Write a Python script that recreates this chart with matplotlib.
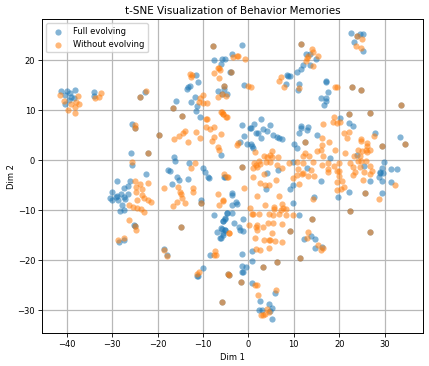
import matplotlib
matplotlib.use("Agg")
import matplotlib.pyplot as plt

title = "t-SNE Visualization of Behavior Memories"
xlabel = "Dim 1"
ylabel = "Dim 2"
label_full = "Full evolving"
label_without = "Without evolving"

# points that appear in both series
both_x = [-23.8,-16.6,-14.7,-25.0,-19.8,-22.1,-7.9,-5.9,-3.9,11.7,22.8,24.7,33.7,22.2,26.9,34.5,29.5,12.5,-1.5,24.0,
          -25.0,-10.5,-14.8,-4.4,-5.8,25.6,22.4,14.1,9.2,26.7,11.3,3.2,6.4,-4.3,-1.6]
both_y = [12.7,10.5,8.9,6.5,5.1,1.5,22.9,13.3,17.6,23.3,14.6,14.1,11.0,9.3,9.5,3.3,2.8,3.6,-1.3,24.9,
          -13.1,-8.5,-13.3,-22.8,-28.4,-6.5,-10.1,-11.7,-14.2,-14.4,-19.5,-21.3,-20.4,-22.9,-24.3]

full_x = [-41.3,-39.9,-38.2,-40.5,-39.4,-39.1,-38.5,-39.6,-40.5,-34.0,-34.1,-22.8,-25.7,-25.9,-25.6,
          -7.5,-5.9,-5.1,-6.1,-4.0,-11.6,-11.2,-13.6,-13.3,-12.8,-15.9,-11.7,-12.7,-11.3,-11.5,-10.6,-6.8,-5.4,-4.8,-6.1,
          -16.4,-16.2,-13.0,-10.1,-9.5,-17.6,-17.2,-22.5,-1.4,-3.7,-0.9,-5.4,
          -1.5,1.2,2.7,0.3,0.5,1.7,2.1,3.2,4.0,4.7,2.7,-0.9,-1.8,-0.4,0.6,0.9,1.1,5.5,6.4,6.8,7.3,10.1,10.6,9.9,
          11.6,11.5,11.2,13.2,13.0,15.1,20.1,22.2,23.1,28.0,33.3,23.9,18.0,25.4,29.8,29.4,31.4,32.7,28.9,29.6,4.0,6.5,13.0,
          8.3,8.4,8.8,9.2,10.6,11.5,12.1,13.5,12.7,13.6,14.8,11.2,11.0,17.0,17.2,17.5,15.9,17.2,17.0,16.7,22.6,25.3,23.2,25.2,24.6,
          -28.9,-26.1,-26.6,-27.5,-30.1,-30.5,-30.0,-29.1,-28.9,-28.0,-27.5,-26.6,-28.7,-27.2,-27.9,-28.2,-27.5,-25.2,-28.6,-27.3,
          -18.6,-17.9,-10.1,-11.4,-11.0,-8.4,-16.9,-15.7,-15.3,-13.4,-10.4,-9.0,-8.7,-7.6,-4.7,-5.1,-5.6,-6.9,-6.0,-5.1,-5.7,-6.2,-5.3,
          -5.1,3.8,9.1,9.8,15.9,-3.5,-3.6,-3.5,-2.7,-2.6,14.5,9.8,11.2,-4.8,-3.7,-1.1,-5.1,-5.5,-3.2,-2.1,-1.8,-1.1,-5.9,-5.2,-5.7,-6.1,
          12.3,13.7,14.7,14.7,16.2,19.8,22.2,26.9,31.4,29.5,29.4,28.8,29.0,-1.4,0.9,0.7,-1.3,-0.5,-1.5,-1.1,0.7,5.9,2.6,2.3,3.1,4.6,5.3,5.1,4.8]
full_y = [13.8,13.9,14.0,13.1,13.4,12.7,12.4,12.1,11.3,13.7,12.9,13.7,7.3,1.4,-0.9,
          20.1,20.3,20.3,19.3,17.6,17.1,15.7,14.2,14.7,14.9,11.9,12.6,11.6,10.9,9.9,8.7,13.8,14.8,13.3,1.1,
          0.7,-0.1,-0.6,-1.6,-2.4,-1.9,-2.2,-2.8,23.0,21.3,15.1,14.3,
          7.1,7.3,8.3,6.5,6.4,5.5,5.4,6.3,5.9,7.1,4.5,4.8,3.7,3.2,3.2,2.9,2.5,5.1,4.7,4.5,4.3,3.3,2.5,-0.3,
          6.8,6.4,5.5,6.7,6.1,5.0,8.5,7.4,6.8,5.4,4.7,1.1,0.5,-1.1,-0.3,-1.6,-1.8,-1.7,-2.3,-2.6,-2.6,-2.0,-1.6,
          15.3,17.1,16.9,16.9,17.6,18.3,19.1,19.0,21.3,21.2,20.3,15.2,14.1,15.8,15.7,13.6,12.5,12.4,11.9,11.1,25.4,25.2,23.6,21.9,25.2,
          -4.1,-4.1,-5.1,-5.5,-6.3,-7.5,-7.9,-7.3,-7.1,-6.8,-7.3,-6.8,-7.9,-7.8,-8.9,-10.2,-9.9,-12.9,-16.3,-15.9,
          -17.7,-18.9,-21.5,-23.1,-23.2,-18.9,-4.7,-3.3,-3.9,-3.8,-7.9,-3.4,-3.5,-11.0,-10.5,-11.6,-12.1,-14.4,-13.6,-13.9,-14.6,-15.6,-3.3,
          -3.4,-5.8,-5.7,-5.0,-4.1,-6.6,-6.9,-8.9,-8.4,-8.8,-7.3,-8.6,-11.0,-10.6,-10.5,-11.8,-11.7,-12.2,-12.6,-13.3,-13.9,-14.1,-13.8,-13.9,-14.9,-15.6,
          -15.7,-15.1,-15.8,-17.5,-17.3,-7.3,-6.3,-4.1,-4.3,-6.6,-4.1,-3.3,-2.5,-18.8,-18.1,-20.2,-21.1,-21.4,-22.4,-22.3,-24.6,-26.5,-28.1,-29.9,-30.0,-28.8,-29.5,-31.7,-30.1]

without_x = [-41.6,-40.7,-37.6,-39.0,-38.0,-37.4,-38.3,-39.7,-38.1,-33.9,-32.9,-32.5,-22.5,-25.0,
             -16.4,-15.2,-14.3,-14.0,-13.3,-11.5,-10.6,-9.4,-8.4,-7.5,-6.1,-8.1,-7.6,-9.3,-9.1,-6.0,-5.5,-4.8,-6.6,-6.4,-25.7,-11.7,-12.6,-5.3,
             -7.6,-6.8,-6.4,-6.2,-6.5,-12.8,-12.5,-12.6,-10.6,-10.0,-10.9,-10.1,-9.2,-6.8,
             -3.3,-2.6,-2.2,-0.8,-0.1,0.6,-5.4,-5.0,-5.9,-5.5,-4.9,
             14.1,14.3,13.2,13.0,12.6,15.4,14.2,7.1,6.8,7.9,19.0,19.5,11.2,25.0,23.7,24.9,
             18.9,18.6,19.6,20.2,16.4,21.0,22.1,21.7,24.7,24.7,26.1,26.1,27.6,16.3,17.8,16.3,16.0,15.2,19.0,16.4,21.3,24.2,25.0,25.8,26.9,26.2,23.3,24.5,
             13.3,12.0,12.5,12.1,14.3,10.7,9.0,7.5,5.1,4.8,5.2,4.0,3.5,6.5,4.8,3.9,2.4,1.2,2.6,1.7,1.8,1.1,1.4,-2.6,-2.2,
             6.2,11.0,12.1,13.9,16.3,17.6,20.0,18.9,17.5,20.0,22.3,23.1,23.4,24.2,24.9,25.8,24.6,26.8,27.2,26.9,17.6,25.5,
             -25.0,-23.9,-22.2,-24.7,-23.5,-24.7,-23.5,-23.0,-22.1,-21.4,-24.5,-26.3,-25.4,-24.6,-23.7,-23.1,-26.2,-24.8,-28.7,-27.4,
             -18.6,-15.4,-15.0,-14.9,-14.7,-15.7,-16.7,-14.0,-12.1,-12.1,-18.5,-18.0,-7.3,-7.5,-7.2,-10.9,-11.4,-6.8,-5.6,-6.5,-4.8,-4.3,
             -4.4,1.1,3.5,6.0,9.8,10.6,11.9,13.2,14.5,2.6,3.7,4.6,11.2,-1.0,1.8,6.8,-5.5,14.3,3.7,0.4,5.7,5.7,7.5,7.6,8.3,7.1,
             0.7,1.1,2.3,4.6,5.5,6.8,8.2,9.9,0.1,1.8,1.6,1.8,3.3,4.3,5.5,7.4,5.1,-4.2,1.5,3.4,4.5,4.7,5.9,7.3,13.1,13.0,15.3,16.4,15.9,
             1.7,2.6,4.5,19.5,20.6,19.5,20.3,21.0,23.1,25.3,19.9,19.5,32.2,28.7,
             1.5,1.8,2.1,6.1,4.2,4.6,3.7,2.7,3.3]
without_y = [13.0,11.9,12.8,11.2,11.6,11.3,10.7,10.0,9.5,12.4,12.7,13.5,13.9,7.1,
             4.3,4.8,5.4,5.9,3.7,5.7,4.4,6.7,6.2,6.6,5.2,3.9,4.6,8.3,8.3,9.7,9.2,8.7,2.6,2.1,-0.3,-0.5,-1.6,-2.7,
             17.4,18.4,18.4,18.1,16.5,17.3,17.1,16.6,12.4,13.1,11.6,11.5,11.5,12.7,
             20.6,20.8,20.9,20.3,14.9,14.6,14.9,12.9,9.6,9.3,8.6,
             22.3,21.6,20.9,20.4,19.8,20.9,18.9,16.7,15.8,14.6,14.7,14.7,14.4,24.2,22.9,22.5,
             8.6,7.6,7.4,7.7,7.2,5.5,5.6,4.4,4.3,3.8,3.4,2.9,4.9,4.5,3.7,3.0,2.1,1.9,2.1,0.9,1.4,2.0,1.9,2.1,2.1,1.6,0.9,0.9,
             0.8,0.9,1.4,-0.6,-0.3,-0.3,-0.6,-1.5,1.9,1.1,0.7,0.7,0.9,0.7,-0.3,-0.3,-0.1,-0.5,-0.8,-0.9,-1.3,-1.6,1.7,3.1,3.4,
             -1.0,-1.7,-2.6,-1.9,-0.9,-0.6,-0.5,-1.1,-1.8,-2.1,-0.5,-1.3,-2.3,-0.1,-0.1,-0.1,-1.3,-1.1,-2.2,-2.8,-2.3,-2.3,
             -4.1,-4.8,-4.5,-5.4,-5.8,-6.3,-6.9,-7.5,-7.9,-8.3,-7.9,-9.0,-9.3,-9.5,-9.8,-10.3,-12.0,-13.9,-15.9,-15.6,
             -5.5,-5.4,-6.3,-6.7,-7.5,-8.3,-9.1,-8.5,-5.6,-6.3,-17.9,-19.1,-18.1,-18.9,-19.0,-22.3,-22.7,-6.7,-8.0,-9.0,-3.3,-14.6,
             -3.3,-3.4,-2.7,-3.9,-3.5,-2.9,-2.7,-3.2,-3.2,-4.6,-4.9,-5.0,-4.7,-5.6,-7.1,-7.1,-8.1,-7.8,-8.9,-9.6,-9.3,-9.8,-8.8,-9.5,-9.7,-10.0,
             -10.7,-10.7,-10.7,-10.7,-10.9,-10.7,-11.0,-11.0,-13.0,-12.9,-13.4,-13.9,-13.3,-12.5,-12.6,-12.7,-14.5,-14.6,-15.5,-16.0,-15.9,-15.9,-16.1,-16.3,-14.3,-15.6,-16.9,-17.5,-18.0,
             -17.7,-18.0,-17.5,-4.4,-4.1,-5.9,-5.7,-5.3,-3.0,-3.9,-3.2,-2.2,-4.9,-7.8,
             -25.0,-25.0,-27.0,-26.0,-29.8,-30.3,-30.7,-31.0,-30.9]

W, H = 429, 366
fig = plt.figure(figsize=(W/100, H/100), dpi=100)
ax = fig.add_axes([42.3/W, 1-333.3/H, (422.7-42.3)/W, (333.3-19.3)/H])
ax.grid(True, color="#b8b8b8", lw=0.9, zorder=0)
ax.set_axisbelow(True)
ax.scatter(full_x+both_x, full_y+both_y, s=20, c="tab:blue", alpha=0.55, linewidths=0, label=label_full, zorder=2)
ax.scatter(without_x+both_x, without_y+both_y, s=20, c="tab:orange", alpha=0.55, linewidths=0, label=label_without, zorder=3)
ax.set_xlim(-45.4, 38.4)
ax.set_ylim(-34.6, 28.2)
ax.set_xticks([-40,-30,-20,-10,0,10,20,30])
ax.set_yticks([-30,-20,-10,0,10,20])
ax.tick_params(labelsize=6, length=2.6, width=0.6, pad=2.5)
for s in ax.spines.values():
    s.set_linewidth(0.7)
ax.set_title(title, fontsize=7.5, pad=3.5)
ax.set_xlabel(xlabel, fontsize=6, labelpad=2.5)
ax.set_ylabel(ylabel, fontsize=6, labelpad=1.5)
ax.legend(loc="upper left", fontsize=6)
fig.savefig("out.png", dpi=100)
